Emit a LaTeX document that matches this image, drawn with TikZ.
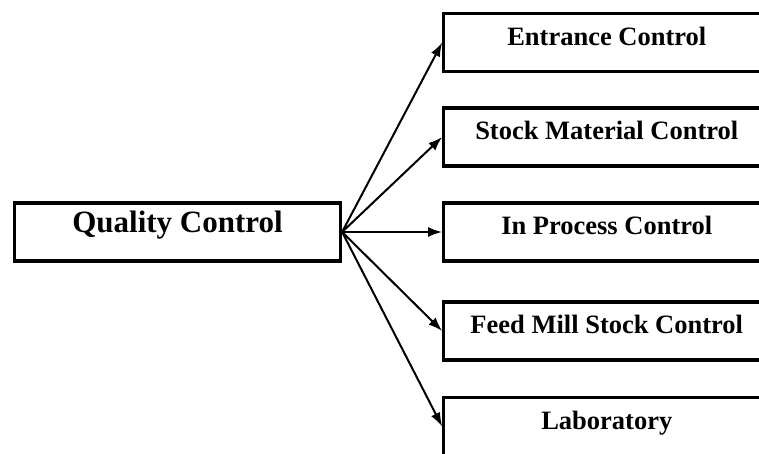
\documentclass[tikz,border=0pt]{standalone}
\usepackage{fontspec}
\setmainfont{Liberation Serif}
\usetikzlibrary{arrows.meta}
\tikzset{
  box/.style={draw=black, line width=3.2pt, minimum width=326pt, minimum height=58pt,
    inner sep=0pt, font=\bfseries\fontsize{26.5pt}{30pt}\selectfont, text height=20pt, text depth=15pt},
  mainbox/.style={box, font=\bfseries\fontsize{31pt}{35pt}\selectfont, text height=20pt, text depth=20pt},
  conn/.style={line width=2pt, -{Latex[length=14pt,width=10pt]}}
}
\begin{document}
\begin{tikzpicture}[x=1pt,y=-1pt]
\useasboundingbox (0,0) rectangle (759,453);
\fill[white] (0,0) rectangle (759,453);
\clip (0,0) rectangle (759,453);
\node[mainbox] (qc) at (177.5,232) {Quality Control};
\node[box] (b1) at (606.75,42.5) {Entrance Control};
\node[box] (b2) at (606.75,137) {Stock Material Control};
\node[box] (b3) at (606.75,232) {In Process Control};
\node[box] (b4) at (606.75,331) {Feed Mill Stock Control};
\node[box] (b5) at (606.75,426.5) {Laboratory};
\foreach \b in {b1,b2,b3,b4,b5}
  \draw[conn] (qc.east) -- (\b.west);
\end{tikzpicture}
\end{document}
